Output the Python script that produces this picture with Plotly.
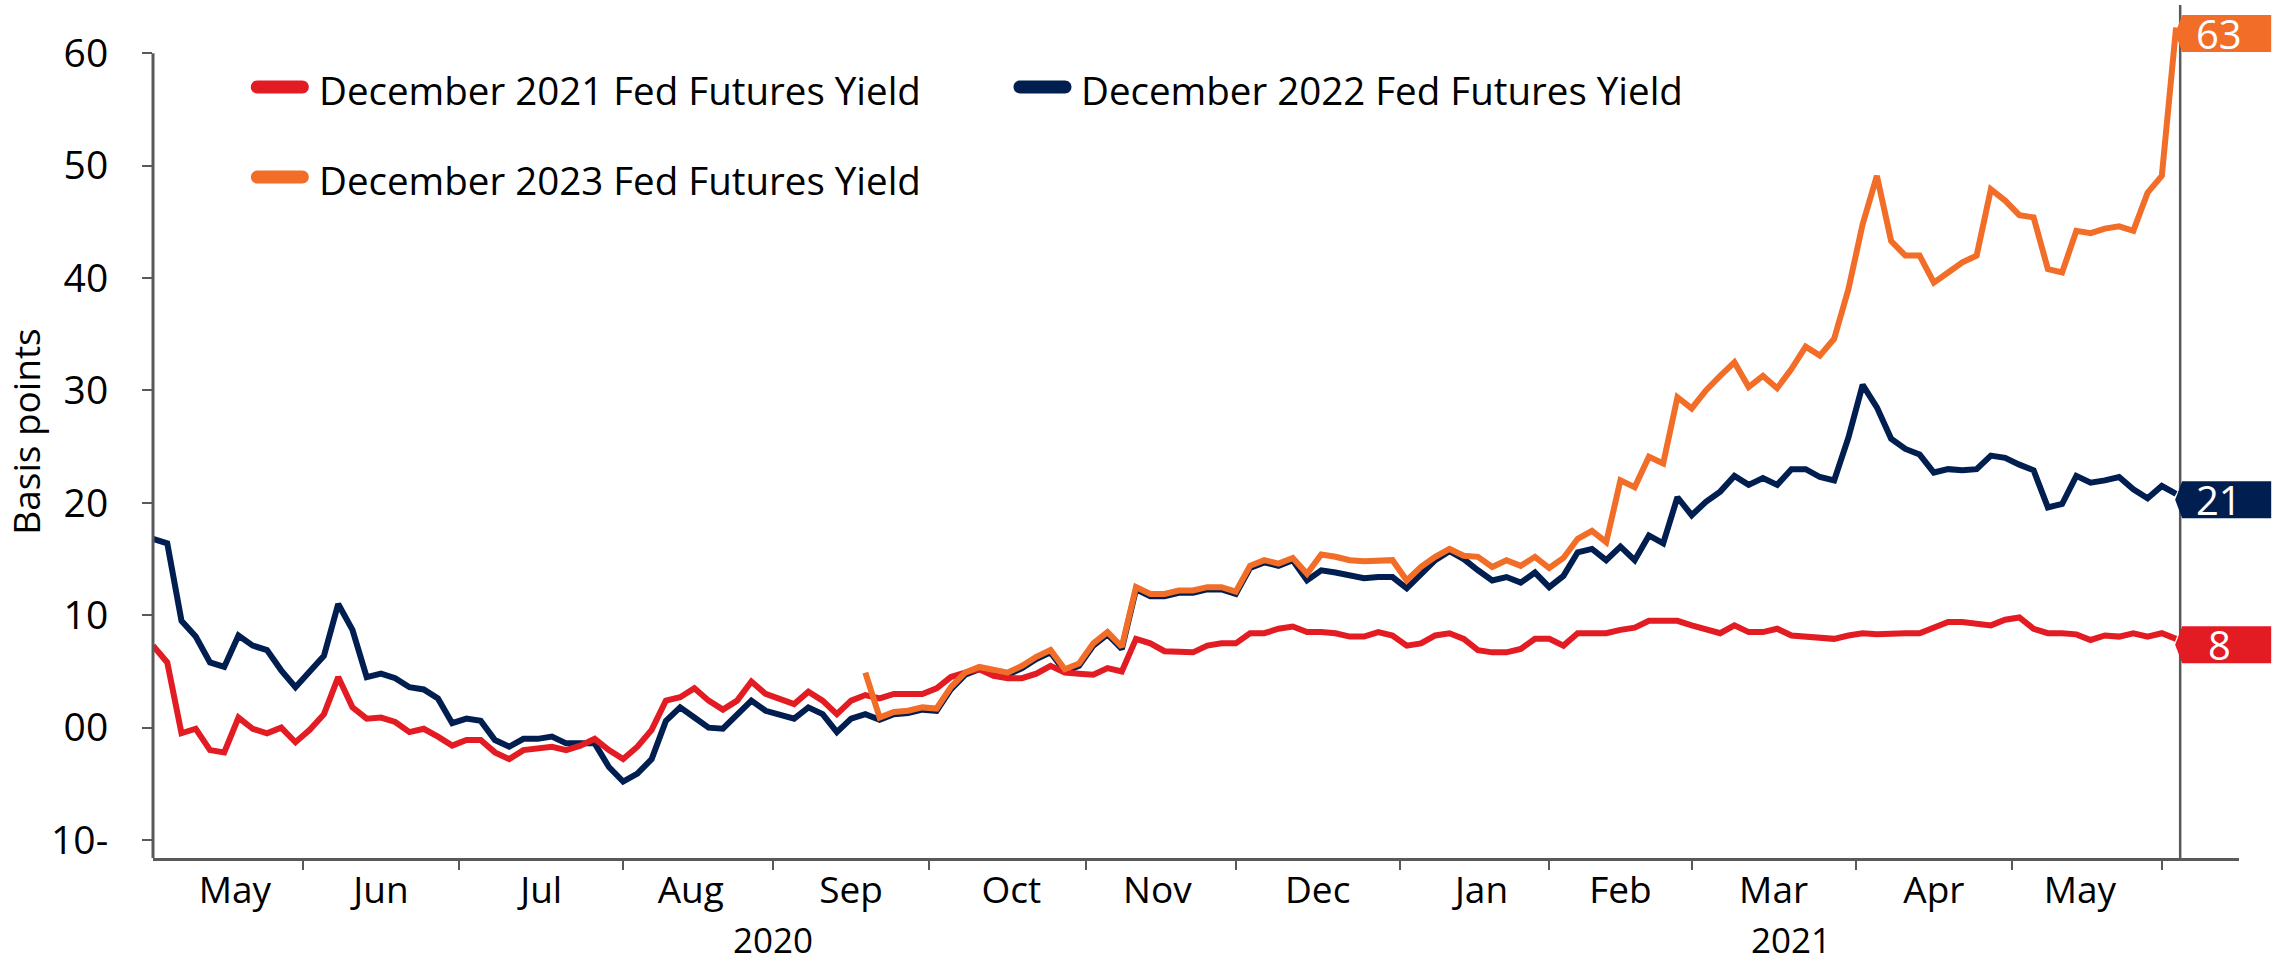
import plotly.graph_objects as go
import pandas as pd

# every second business day, 1 May 2020 .. 3 Jun 2021
dates = pd.bdate_range("2020-05-01", "2021-06-03")[::2]

dec21 = [7.3, 5.8, -0.5, -0.1, -2.0, -2.2, 0.9, -0.1, -0.5, 0.0,
         -1.3, -0.2, 1.2, 4.5, 1.8, 0.8, 0.9, 0.5, -0.4, -0.1,
         -0.8, -1.6, -1.1, -1.1, -2.2, -2.8, -2.0, -1.9, -1.7, -2.0,
         -1.6, -1.0, -2.0, -2.8, -1.7, -0.2, 2.4, 2.7, 3.5, 2.4,
         1.6, 2.4, 4.1, 3.0, 2.6, 2.1, 3.2, 2.4, 1.2, 2.4,
         2.9, 2.6, 3.0, 3.0, 3.0, 3.5, 4.5, 4.9, 5.2, 4.6,
         4.4, 4.4, 4.8, 5.5, 4.9, 4.8, 4.7, 5.3, 5.0, 7.9,
         7.5, 6.8, 6.7, 6.7, 7.3, 7.5, 7.5, 8.4, 8.4, 8.8,
         9.0, 8.5, 8.5, 8.4, 8.1, 8.1, 8.5, 8.2, 7.3, 7.5,
         8.2, 8.4, 7.9, 6.9, 6.7, 6.7, 7.0, 7.9, 7.9, 7.3,
         8.4, 8.4, 8.4, 8.7, 8.9, 9.5, 9.5, 9.5, 9.1, 8.8,
         8.4, 9.1, 8.5, 8.5, 8.8, 8.2, 8.1, 8.1, 7.9, 8.2,
         8.4, 8.3, 8.4, 8.4, 8.4, 8.9, 9.4, 9.4, 9.3, 9.1,
         9.6, 9.8, 8.8, 8.4, 8.4, 8.3, 7.8, 8.2, 8.1, 8.4,
         8.1, 8.4, 7.9]

dec22 = [16.8, 16.4, 9.5, 8.1, 5.8, 5.4, 8.2, 7.3, 6.9, 5.1,
         3.6, 5.1, 6.4, 11.0, 8.7, 4.5, 4.8, 4.4, 3.6, 3.4,
         2.6, 0.4, 0.8, 0.6, -1.1, -1.7, -1.0, -1.0, -0.8, -1.4,
         -1.4, -1.4, -3.5, -4.8, -4.1, -2.8, 0.6, 1.8, 0.9, 0.0,
         -0.1, 1.2, 2.4, 1.5, 1.1, 0.8, 1.8, 1.2, -0.4, 0.8,
         1.2, 0.7, 1.2, 1.3, 1.6, 1.5, 3.4, 4.7, 5.2, 5.0,
         4.7, 5.3, 6.1, 6.7, 5.0, 5.5, 7.3, 8.3, 7.0, 12.3,
         11.7, 11.7, 12.0, 12.0, 12.3, 12.3, 11.9, 14.2, 14.7, 14.4,
         14.9, 13.1, 14.0, 13.8, 13.5, 13.3, 13.4, 13.4, 12.4, 13.7,
         14.9, 15.7, 15.0, 14.0, 13.1, 13.4, 12.9, 13.8, 12.5, 13.5,
         15.6, 15.9, 14.9, 16.1, 14.9, 17.1, 16.4, 20.5, 18.9, 20.1,
         21.0, 22.4, 21.6, 22.2, 21.6, 23.0, 23.0, 22.3, 22.0, 25.8,
         30.5, 28.5, 25.7, 24.8, 24.3, 22.7, 23.0, 22.9, 23.0, 24.2,
         24.0, 23.4, 22.9, 19.6, 19.9, 22.4, 21.8, 22.0, 22.3, 21.2,
         20.4, 21.5, 20.8]

# December 2023 contract starts mid-September 2020
dec23_dates = dates[50:]
dec23 = [4.9, 0.9, 1.4, 1.5, 1.8, 1.7, 3.6, 4.9, 5.4, 5.2,
         4.9, 5.5, 6.3, 6.9, 5.2, 5.7, 7.5, 8.5, 7.2, 12.5,
         11.9, 11.9, 12.2, 12.2, 12.5, 12.5, 12.1, 14.4, 14.9, 14.6,
         15.1, 13.7, 15.4, 15.2, 14.9, 14.8, 14.9, 14.9, 13.1, 14.3,
         15.2, 15.9, 15.3, 15.2, 14.3, 14.9, 14.4, 15.2, 14.2, 15.1,
         16.8, 17.5, 16.5, 22.0, 21.4, 24.1, 23.5, 29.4, 28.4, 30.0,
         31.3, 32.5, 30.3, 31.3, 30.2, 31.9, 33.9, 33.1, 34.6, 39.0,
         44.8, 49.1, 43.3, 42.0, 42.0, 39.6, 40.5, 41.4, 42.0, 47.9,
         46.9, 45.6, 45.4, 40.8, 40.5, 44.2, 44.0, 44.4, 44.6, 44.2,
         47.6, 49.1, 62.3]

names = ["December 2021 Fed Futures Yield",
         "December 2022 Fed Futures Yield",
         "December 2023 Fed Futures Yield"]
end_labels = ["8", "21", "63"]
y_tickvals = [-10, 0, 10, 20, 30, 40, 50, 60]
y_ticktext = ["10-", "00", "10", "20", "30", "40", "50", "60"]
years = [2020, 2021]

RED = "#E31B23"
NAVY = "#001E50"
ORANGE = "#F26D27"
AXIS = "#595959"
FONT = "Open Sans"

series = [
    (names[0], dates, dec21, RED),
    (names[1], dates, dec22, NAVY),
    (names[2], dec23_dates, dec23, ORANGE),
]

fig = go.Figure()

# navy underneath, then red, orange on top
for i in [1, 0, 2]:
    name, x, y, color = series[i]
    fig.add_trace(go.Scatter(x=x, y=y, name=name, mode="lines",
                             line=dict(color=color, width=6),
                             showlegend=False, hoverinfo="skip"))

y_min, y_max = -11.6, 64.3
end_x = 0.9718  # paper position of the vertical end line

fig.add_shape(type="line", xref="paper", yref="y", x0=0, x1=0,
              y0=y_min, y1=max(y_tickvals), line=dict(color=AXIS, width=3))
fig.add_shape(type="line", xref="paper", yref="paper", x0=end_x, x1=end_x,
              y0=0, y1=1, line=dict(color=AXIS, width=2.5))

# value tags at the right edge
for (name, x, y, color), lab in zip(series, end_labels):
    fig.add_shape(type="path", xref="paper", yref="y",
                  xsizemode="pixel", ysizemode="pixel",
                  xanchor=end_x, yanchor=y[-1],
                  path="M -5,-6 L 2,12.5 L 91,12.5 L 91,-24.5 L 2,-24.5 Z",
                  fillcolor=color, line=dict(width=0), layer="above")
    fig.add_annotation(xref="paper", yref="y", x=end_x, y=y[-1],
                       xshift=39, yshift=-6, text=lab, showarrow=False,
                       xanchor="center", yanchor="middle",
                       font=dict(family=FONT, size=40, color="white"))

# legend drawn by hand: rounded thick swatches + labels
swatch = ("M 6.5,-6.5 L 51.5,-6.5 C 55.1,-6.5 58,-3.6 58,0 C 58,3.6 55.1,6.5 51.5,6.5 "
          "L 6.5,6.5 C 2.9,6.5 0,3.6 0,0 C 0,-3.6 2.9,-6.5 6.5,-6.5 Z")
legend_pos = [(0.0469, 0.9039), (0.4125, 0.9039), (0.0469, 0.7983)]
for (name, x, y, color), (lx, ly) in zip(series, legend_pos):
    fig.add_shape(type="path", xref="paper", yref="paper",
                  xsizemode="pixel", ysizemode="pixel", xanchor=lx, yanchor=ly,
                  path=swatch, fillcolor=color, line=dict(width=0))
    fig.add_annotation(xref="paper", yref="paper", x=lx, y=ly - 0.004,
                       xshift=66, text=name, showarrow=False,
                       xanchor="left", yanchor="middle",
                       font=dict(family=FONT, size=38.5, color="black"))

# year labels centred under each year's span
all_days = pd.bdate_range(dates[0], dates[-1])
for yr in years:
    d = all_days[all_days.year == yr]
    fig.add_annotation(xref="x", yref="paper", x=d[len(d) // 2], y=-0.0961,
                       text=str(yr), showarrow=False, yanchor="middle",
                       font=dict(family=FONT, size=35, color="black"))

fig.update_layout(
    width=2284, height=962,
    margin=dict(l=147, r=45, t=5, b=104),
    plot_bgcolor="white", paper_bgcolor="white",
    font=dict(family=FONT, size=40, color="black"),
    showlegend=False,
)

fig.update_xaxes(type="date", range=[dates[0], "2021-06-15 20:00"],
                 rangebreaks=[dict(bounds=["sat", "mon"])],
                 tick0="2020-05-01", dtick="M1", tickformat="%b",
                 ticklabelmode="period", ticks="outside", ticklen=9,
                 tickwidth=2, tickcolor=AXIS, showline=True, linecolor=AXIS,
                 linewidth=3, showgrid=False, zeroline=False,
                 ticklabelstandoff=-11,
                 tickfont=dict(family=FONT, size=37, color="black"))

fig.update_yaxes(range=[y_min, y_max], tickvals=y_tickvals, ticktext=y_ticktext,
                 ticks="outside", ticklen=10, tickwidth=2, tickcolor=AXIS,
                 ticklabelstandoff=26, showline=False, showgrid=False,
                 zeroline=False,
                 tickfont=dict(family=FONT, size=39, color="black"),
                 title=dict(text="Basis points", standoff=20,
                            font=dict(family=FONT, size=37, color="black")))

# page body margin would push the figure off the 2284x962 window
fig.write_html("out.html", config={"displayModeBar": False},
               post_script="document.body.style.margin='0';")
